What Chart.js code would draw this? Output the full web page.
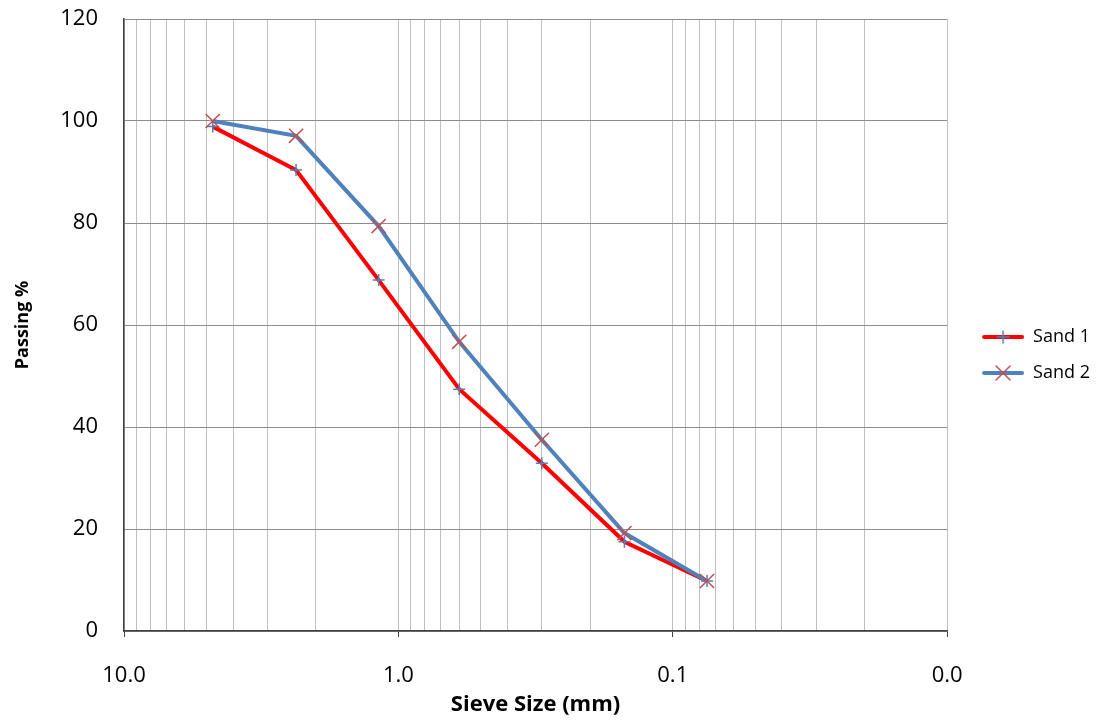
<!DOCTYPE html>
<html lang="en">
  <head>
    <title>Sieve analysis</title>
    <meta charset="utf-8">
    <style>
      body { margin: 0; background: #fff; }
      #wrap { width: 1100px; height: 720px; }
    </style>
  </head>
  <body>
    <div id="wrap"><canvas id="grading"></canvas></div>

    <script src="https://cdn.jsdelivr.net/npm/chart.js@4.4.0/dist/chart.umd.min.js"></script>
    <script>
    // sieve sizes (mm) and percent passing for each sand
    const sieveSizes = [4.75, 2.36, 1.18, 0.6, 0.3, 0.15, 0.075]
    const sand1 = [98.9, 90.4, 68.8, 47.4, 32.9, 17.5, 9.8]
    const sand2 = [100, 97.1, 79.4, 56.7, 37.5, 19.2, 9.8]
    const seriesNames = ['Sand 1', 'Sand 2']

    const red = '#FF0000'
    const blue = '#4F81BD'
    const brick = '#C0504D'

    // line + marker picture for the legend (left margin keeps it off the plot)
    function legendIcon(lineColor, markColor, mark) {
      let m = 17
      let c = document.createElement('canvas')
      c.width = 42 + m; c.height = 16
      let g = c.getContext('2d')
      g.strokeStyle = lineColor
      g.lineWidth = 4
      g.lineCap = 'round'
      g.beginPath(); g.moveTo(m + 2, 8); g.lineTo(m + 40, 8); g.stroke()
      g.strokeStyle = markColor
      g.lineWidth = 1.5
      g.beginPath()
      if (mark == 'plus') {
        g.moveTo(m + 15, 8); g.lineTo(m + 27, 8); g.moveTo(m + 21, 2); g.lineTo(m + 21, 14)
      } else {
        g.moveTo(m + 14, 1); g.lineTo(m + 28, 15); g.moveTo(m + 28, 1); g.lineTo(m + 14, 15)
      }
      g.stroke()
      return c
    }
    const icons = [legendIcon(red, blue, 'plus'), legendIcon(blue, brick, 'x')]

    function pts(ys) {
      return sieveSizes.map((s, i) => ({ x: s, y: ys[i] }))
    }

    function isDecade(v) {
      let l = Math.log10(v)
      return Math.abs(l - Math.round(l)) < 1e-9
    }

    const font = 'Open Sans'

    new Chart(document.getElementById('grading'), {
      type: 'line',
      data: {
        datasets: [{
          label: seriesNames[0],
          data: pts(sand1),
          borderColor: red,
          borderWidth: 4,
          pointStyle: 'cross',
          pointRadius: 6,
          pointBorderColor: blue,
          pointBorderWidth: 1.5,
          pointBackgroundColor: blue,
          tension: 0,
          order: 1
        }, {
          label: seriesNames[1],
          data: pts(sand2),
          borderColor: blue,
          borderWidth: 4,
          pointStyle: 'crossRot',
          pointRadius: 10,
          pointBorderColor: brick,
          pointBorderWidth: 1.5,
          pointBackgroundColor: brick,
          tension: 0,
          order: 0
        }]
      },
      options: {
        responsive: true,
        maintainAspectRatio: false,
        animation: false,
        layout: { padding: { top: 0, left: 0, right: 0, bottom: 10 } },
        plugins: {
          tooltip: { enabled: false },
          legend: {
            position: 'right',
            labels: {
              usePointStyle: true,
              pointStyleWidth: 59,
              boxHeight: 16,
              padding: 18,
              color: '#000',
              font: { family: font, size: 18 },
              generateLabels: () => seriesNames.map((n, i) => ({
                text: n,
                pointStyle: icons[i],
                datasetIndex: i,
                fontColor: '#000',
                lineWidth: 0,
                strokeStyle: 'transparent',
                fillStyle: 'transparent'
              }))
            }
          }
        },
        scales: {
          x: {
            type: 'logarithmic',
            reverse: true,
            min: 0.01,
            max: 10,
            afterBuildTicks: (scale) => {
              let t = []
              for (let e = -2; e <= 0; e++) {
                for (let k = 1; k <= 9; k++) {
                  let v = +(k * Math.pow(10, e)).toFixed(4)
                  t.push({ value: v, major: k == 1 })
                }
              }
              t.push({ value: 10, major: true })
              scale.ticks = t
            },
            afterFit: (scale) => { scale.height = 79 },
            ticks: {
              autoSkip: false,
              maxRotation: 0,
              padding: 26,
              color: '#000',
              font: { family: font, size: 22 },
              callback: (v) => isDecade(v) ? v.toFixed(1) : ''
            },
            grid: {
              color: '#BFBFBF',
              lineWidth: 1,
              tickLength: 6,
              tickColor: (ctx) => ctx.tick && isDecade(ctx.tick.value) ? '#404040' : 'transparent'
            },
            border: { color: '#404040', width: 1.5 },
            title: {
              display: true,
              text: 'Sieve Size (mm)',
              color: '#000',
              font: { family: font, size: 22, weight: 'bold' },
              padding: { top: 0, bottom: -8 }
            }
          },
          y: {
            min: 0,
            max: 120,
            afterFit: (scale) => {
              scale.width = 124
              scale.paddingTop = 19
              scale.paddingBottom = 0
            },
            ticks: {
              stepSize: 20,
              padding: 26,
              color: '#000',
              font: { family: font, size: 22 }
            },
            grid: { color: '#8C8C8C', lineWidth: 1, drawTicks: false },
            border: { color: '#404040', width: 1.5 },
            title: {
              display: true,
              text: 'Passing %',
              color: '#000',
              font: { family: font, size: 18, weight: 'bold' },
              padding: { top: 12, bottom: 0 }
            }
          }
        }
      }
    })
    </script>
  </body>
</html>
